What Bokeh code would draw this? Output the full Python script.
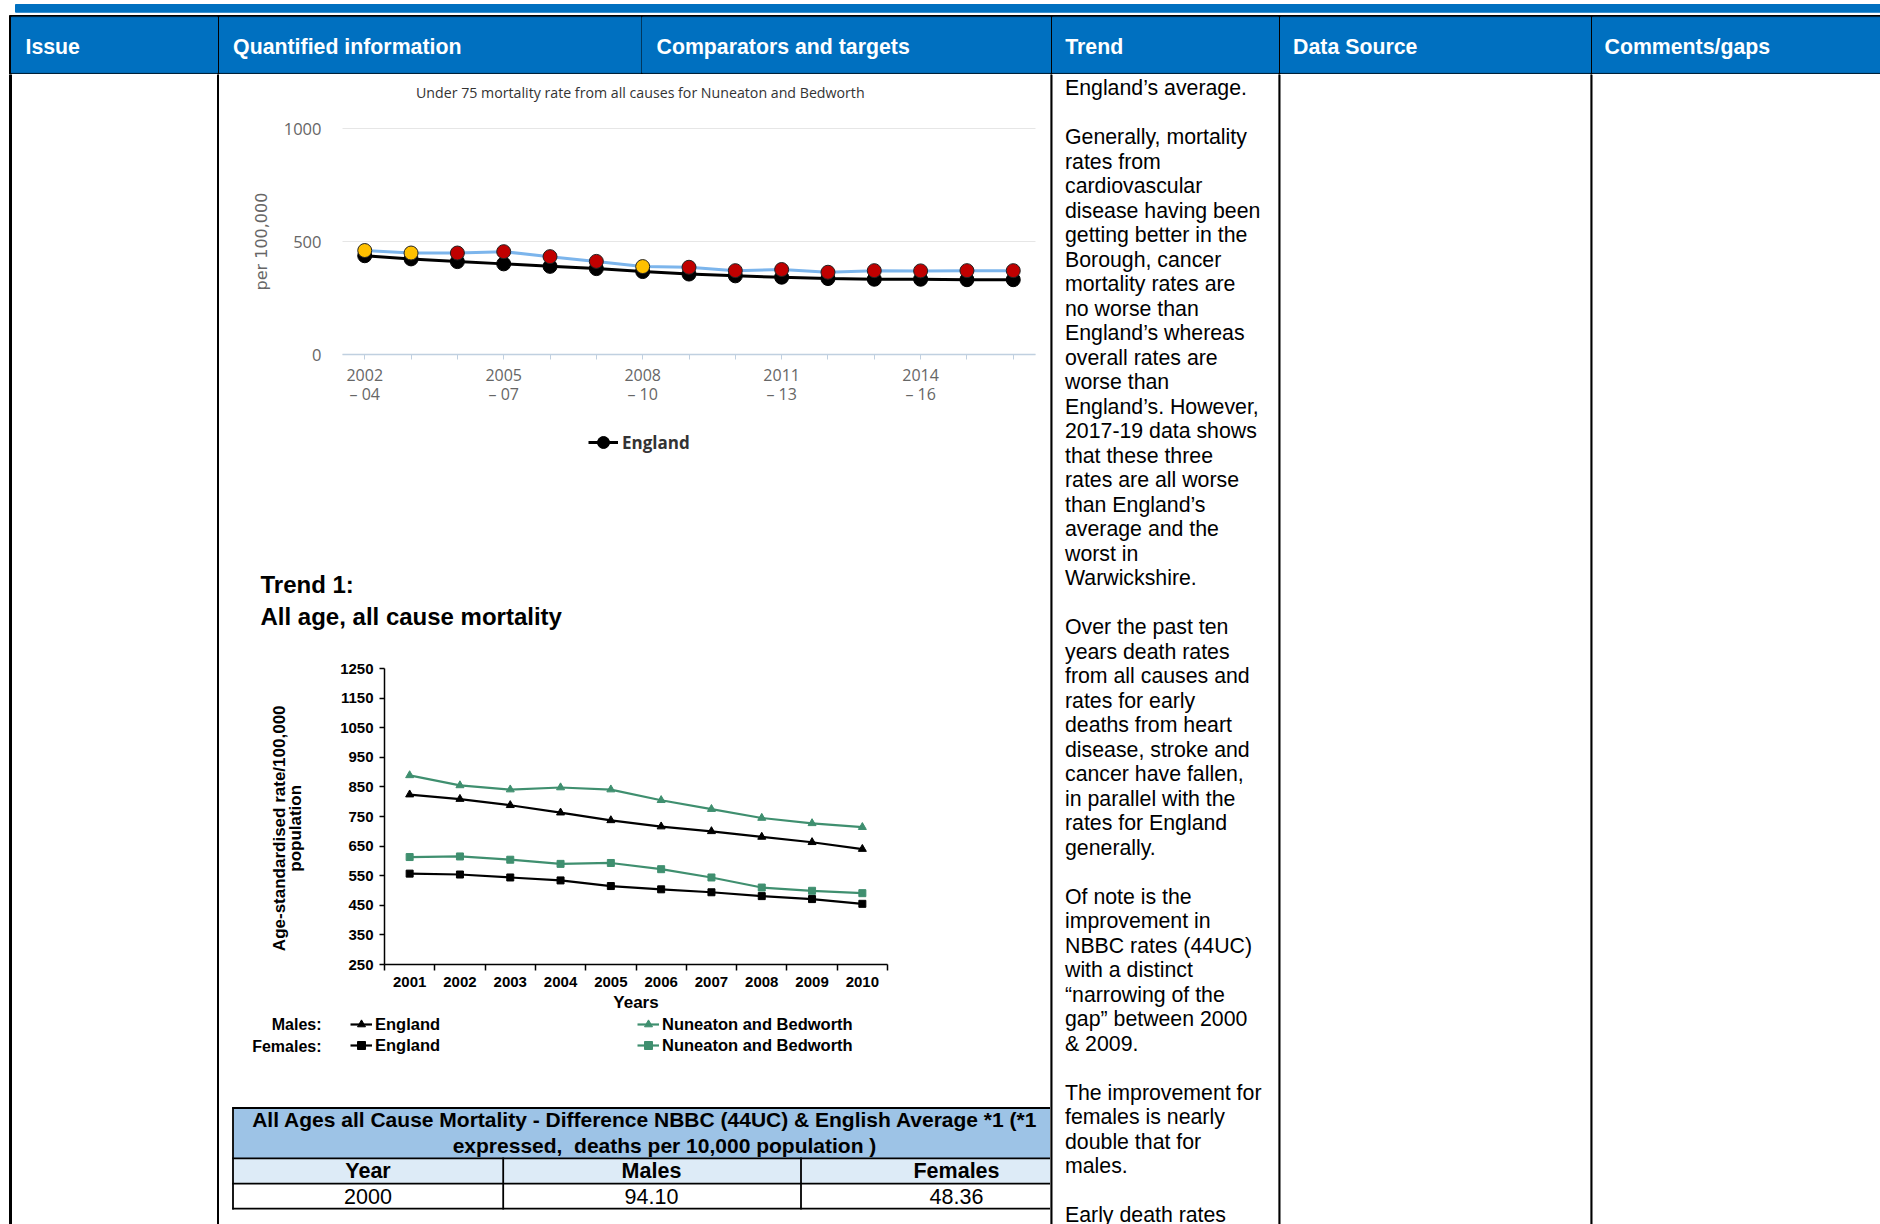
from bokeh.plotting import figure
from bokeh.models import (Range1d, FixedTicker, Legend, LegendItem, Label, ColumnDataSource,
                          LinearAxis)
from bokeh.layouts import column, row
from bokeh.embed import file_html
from bokeh.resources import INLINE
from bokeh.core.properties import value
from bokeh.transform import factor_cmap

# ---------------------------------------------------------------- data
header_labels = ["Issue", "Quantified information", "Comparators and targets",
                 "Trend", "Data Source", "Comments/gaps"]

u75_title = "Under 75 mortality rate from all causes for Nuneaton and Bedworth"
u75_periods = ["2002 – 04", "2003 – 05", "2004 – 06", "2005 – 07", "2006 – 08",
               "2007 – 09", "2008 – 10", "2009 – 11", "2010 – 12", "2011 – 13",
               "2012 – 14", "2013 – 15", "2014 – 16", "2015 – 17", "2016 – 18"]
u75_labelled = ["2002 – 04", "2005 – 07", "2008 – 10", "2011 – 13", "2014 – 16"]
u75_england = [437, 423, 411, 401, 390, 380, 367, 356, 348, 342, 336, 333, 333, 331, 331]
u75_nb = [460, 449, 449, 455, 433, 412, 389, 386, 371, 376, 364, 371, 370, 371, 371]
u75_nb_status = ["Similar", "Similar", "Worse", "Worse", "Worse", "Worse", "Similar",
                 "Worse", "Worse", "Worse", "Worse", "Worse", "Worse", "Worse", "Worse"]
u75_status_levels = ["Similar", "Worse"]
u75_status_colors = ["#FFC000", "#C00000"]
u75_yticks = [0, 500, 1000]
u75_ylabel = "per 100,000"
u75_legend = "England"

trend_heading = ["Trend 1:", "All age, all cause mortality"]
trend_years = [2001, 2002, 2003, 2004, 2005, 2006, 2007, 2008, 2009, 2010]
males_england = [824, 809, 788, 763, 737, 716, 700, 681, 663, 640]
males_nb = [889, 855, 841, 848, 841, 805, 775, 745, 727, 714]
females_england = [557, 554, 544, 534, 515, 504, 494, 481, 471, 455]
females_nb = [613, 615, 604, 590, 593, 572, 544, 510, 499, 491]
trend_yticks = [250, 350, 450, 550, 650, 750, 850, 950, 1050, 1150, 1250]
trend_ylabel = "Age-standardised rate/100,000\npopulation"
trend_xlabel = "Years"
series_names = ["England", "Nuneaton and Bedworth"]
sex_labels = ["Males:", "Females:"]

table_title = ["All Ages all Cause Mortality - Difference NBBC (44UC) & English Average *1 (*1",
               "expressed,  deaths per 10,000 population )"]
table_columns = ["Year", "Males", "Females"]
table_years = ["2000"]
table_males = [94.10]
table_females = [48.36]

trend_text = [
    "England’s average.", "",
    "Generally, mortality", "rates from", "cardiovascular", "disease having been",
    "getting better in the", "Borough, cancer", "mortality rates are", "no worse than",
    "England’s whereas", "overall rates are", "worse than", "England’s. However,",
    "2017-19 data shows", "that these three", "rates are all worse", "than England’s",
    "average and the", "worst in", "Warwickshire.", "",
    "Over the past ten", "years death rates", "from all causes and", "rates for early",
    "deaths from heart", "disease, stroke and", "cancer have fallen,", "in parallel with the",
    "rates for England", "generally.", "",
    "Of note is the", "improvement in", "NBBC rates (44UC)", "with a distinct",
    "“narrowing of the", "gap” between 2000", "& 2009.", "",
    "The improvement for", "females is nearly", "double that for", "males.", "",
    "Early death rates",
]

# ---------------------------------------------------------------- styles / geometry
BLUE = "#0070C0"
ARIAL = "Liberation Sans"
HC = "Open Sans"
GREEN = "#3F8F6F"

X_L, X_R = 0, 1880
Y_T, Y_HDR, Y_B = 0, 74, 1224
COLS = [0, 219, 1050, 1278, 1590, 1880]
MID_T1, MID_T2, MID_T3 = 540, 1090, Y_B


def page_fig(x0, x1, y0, y1, xr=None, yr=None):
    p = figure(width=int(x1 - x0), height=int(y1 - y0),
               x_range=xr or Range1d(x0, x1), y_range=yr or Range1d(y1, y0),
               x_axis_type=None, y_axis_type=None, toolbar_location=None,
               output_backend="svg", min_border=0, outline_line_color=None,
               background_fill_color="white", border_fill_color="white")
    return p


# ---------------------------------------------------------------- header strip
hdr = page_fig(X_L, X_R, Y_T, Y_HDR)
hdr.quad(left=[15], right=[X_R], top=[4], bottom=[11.7], color=BLUE)
hdr.quad(left=[9], right=[X_R], top=[15], bottom=[74.5], color="black")
cell_l = [11, 219, 642, 1052, 1280, 1592]
cell_r = [217, 640.5, 1050, 1278, 1590, X_R]
hdr.quad(left=cell_l, right=cell_r, top=[16.7] * 6, bottom=[72.3] * 6, color=BLUE)
hdr.text(x=[25, 232.6, 656, 1064.7, 1292.6, 1604], y=[46] * 6, text=header_labels,
         text_color="white", text_font=value(ARIAL), text_font_style="bold",
         text_font_size="21.3px", text_baseline="middle")

# ---------------------------------------------------------------- body columns
issue = page_fig(COLS[0], COLS[1], Y_HDR, Y_B)
issue.quad(left=[9, 217], right=[11, 219], top=[Y_HDR] * 2, bottom=[Y_B] * 2, color="black")

trend = page_fig(COLS[2], COLS[3], Y_HDR, Y_B)
trend.quad(left=[1049.5], right=[1051.5], top=[Y_HDR], bottom=[Y_B], color="black")
line_y = [87.5 + 24.51 * i for i in range(len(trend_text))]
trend.text(x=[1064.5] * len(trend_text), y=line_y, text=trend_text, text_color="black",
           text_font=value(ARIAL), text_font_size="21.3px", text_baseline="middle")

dsrc = page_fig(COLS[3], COLS[4], Y_HDR, Y_B)
dsrc.quad(left=[1277.5], right=[1279.5], top=[Y_HDR], bottom=[Y_B], color="black")

comm = page_fig(COLS[4], COLS[5], Y_HDR, Y_B)
comm.quad(left=[1589.5], right=[1591.5], top=[Y_HDR], bottom=[Y_B], color="black")

# ---------------------------------------------------------------- chart 1 (frame = whole canvas)
u75_start = [int(p[:4]) for p in u75_periods]
C1_X0, C1_X1 = u75_start[0] - 0.48, u75_start[-1] + 0.48
C1_Y0, C1_Y1 = u75_yticks[0], u75_yticks[-1]
C1_L, C1_R, C1_T, C1_B = 342, 1035, 128, 354


def c1_x(sx):
    return C1_X0 + (sx - C1_L) / (C1_R - C1_L) * (C1_X1 - C1_X0)


def c1_y(sy):
    return C1_Y0 + (C1_B - sy) / (C1_B - C1_T) * (C1_Y1 - C1_Y0)


c1 = page_fig(COLS[1], COLS[2], Y_HDR, MID_T1,
              xr=Range1d(c1_x(COLS[1]), c1_x(COLS[2])), yr=Range1d(c1_y(MID_T1), c1_y(Y_HDR)))

src1 = ColumnDataSource(dict(x=u75_start, eng=u75_england, nb=u75_nb, status=u75_nb_status))
c1.segment(x0=C1_X0, x1=C1_X1, y0=u75_yticks, y1=u75_yticks, line_color="#E6E6E6", line_width=1)
eng_l = c1.line("x", "eng", source=src1, line_color="black", line_width=3)
eng_s = c1.scatter("x", "eng", source=src1, size=14, fill_color="black", line_color="black")
nb_l = c1.line("x", "nb", source=src1, line_color="#7CB5EC", line_width=3)
nb_s = c1.scatter("x", "nb", source=src1, size=14, line_color="#222222", line_width=1,
                  fill_color=factor_cmap("status", u75_status_colors, u75_status_levels))

c1_yax = LinearAxis(fixed_location=C1_X0, bounds=(C1_Y0, C1_Y1), ticker=FixedTicker(ticks=u75_yticks))
c1_yax.axis_line_color = None
c1_yax.major_tick_line_color = None
c1_yax.major_tick_out = 0
c1_yax.major_tick_in = 0
c1_yax.minor_tick_line_color = None
c1_yax.minor_tick_out = 0
c1_yax.major_label_text_font = HC
c1_yax.major_label_text_font_size = "16.5px"
c1_yax.major_label_text_color = "#666666"
c1_yax.major_label_standoff = 21
c1_yax.axis_label = u75_ylabel
c1_yax.axis_label_text_font = "DejaVu Sans"
c1_yax.axis_label_text_font_style = "normal"
c1_yax.axis_label_text_font_size = "16px"
c1_yax.axis_label_text_color = "#666666"
c1_yax.axis_label_standoff = 10
c1.add_layout(c1_yax, "left")

c1_xax = LinearAxis(fixed_location=C1_Y0, bounds=(C1_X0, C1_X1), ticker=FixedTicker(ticks=u75_start))
c1_xax.major_label_overrides = {s: (p.replace(" – ", "\n– ") if p in u75_labelled else "")
                                for s, p in zip(u75_start, u75_periods)}
c1_xax.axis_line_color = "#C0D0E0"
c1_xax.axis_line_width = 1.5
c1_xax.major_tick_line_color = "#C0D0E0"
c1_xax.major_tick_out = 5
c1_xax.major_tick_in = 0
c1_xax.minor_tick_line_color = None
c1_xax.major_label_text_font = HC
c1_xax.major_label_text_font_size = "16px"
c1_xax.major_label_text_color = "#666666"
c1_xax.major_label_text_line_height = 0.9
c1_xax.major_label_standoff = 4
c1.add_layout(c1_xax, "below")

c1.add_layout(Label(x=c1_x(639.8), y=c1_y(92), text=u75_title, text_align="center",
                    text_baseline="middle", text_font=HC, text_font_size="14.2px",
                    text_color="#333333"))

leg1 = Legend(items=[LegendItem(label=u75_legend, renderers=[eng_l, eng_s])],
              location=(588 - COLS[1], MID_T1 - 457), glyph_width=30, glyph_height=30,
              label_height=30, label_standoff=4, padding=0, margin=0, border_line_color=None,
              background_fill_alpha=0, label_text_font=HC, label_text_font_style="bold",
              label_text_font_size="17px", label_text_color="#333333")
c1.add_layout(leg1)

# ---------------------------------------------------------------- chart 2 (frame = whole canvas)
C2_X0, C2_X1 = trend_years[0] - 0.5, trend_years[-1] + 0.5
C2_Y0, C2_Y1 = trend_yticks[0], trend_yticks[-1]
C2_L, C2_R, C2_T, C2_B = 384, 887, 668, 964


def c2_x(sx):
    return C2_X0 + (sx - C2_L) / (C2_R - C2_L) * (C2_X1 - C2_X0)


def c2_y(sy):
    return C2_Y0 + (C2_B - sy) / (C2_B - C2_T) * (C2_Y1 - C2_Y0)


c2 = page_fig(COLS[1], COLS[2], MID_T1, MID_T2,
              xr=Range1d(c2_x(COLS[1]), c2_x(COLS[2])), yr=Range1d(c2_y(MID_T2), c2_y(MID_T1)))

src2 = ColumnDataSource(dict(x=trend_years, me=males_england, mn=males_nb,
                             fe=females_england, fn=females_nb))
lw = 2.2
me_l = c2.line("x", "me", source=src2, line_color="black", line_width=lw)
me_s = c2.scatter("x", "me", source=src2, marker="triangle", size=8, color="black")
mn_l = c2.line("x", "mn", source=src2, line_color=GREEN, line_width=lw)
mn_s = c2.scatter("x", "mn", source=src2, marker="triangle", size=8, color=GREEN)
fe_l = c2.line("x", "fe", source=src2, line_color="black", line_width=lw)
fe_s = c2.scatter("x", "fe", source=src2, marker="square", size=7, color="black")
fn_l = c2.line("x", "fn", source=src2, line_color=GREEN, line_width=lw)
fn_s = c2.scatter("x", "fn", source=src2, marker="square", size=7, color=GREEN)

boundaries = [y - 0.5 for y in trend_years] + [trend_years[-1] + 0.5]
c2_xax = LinearAxis(fixed_location=C2_Y0, bounds=(C2_X0, C2_X1),
                    ticker=FixedTicker(ticks=trend_years, minor_ticks=boundaries))
c2_yax = LinearAxis(fixed_location=C2_X0, bounds=(C2_Y0, C2_Y1),
                    ticker=FixedTicker(ticks=trend_yticks))
for ax in (c2_xax, c2_yax):
    ax.axis_line_color = "black"
    ax.axis_line_width = 1.5
    ax.major_label_text_font = ARIAL
    ax.major_label_text_font_style = "bold"
    ax.major_label_text_font_size = "15px"
    ax.major_label_text_color = "black"
    ax.axis_label_text_font = ARIAL
    ax.axis_label_text_font_style = "bold"
    ax.axis_label_text_font_size = "17px"
    ax.axis_label_text_color = "black"

c2_yax.major_tick_line_color = "black"
c2_yax.major_tick_line_width = 1.5
c2_yax.major_tick_out = 5
c2_yax.major_tick_in = 0
c2_yax.minor_tick_line_color = None
c2_yax.major_label_standoff = 6
# pad each line so the rotated label sits a little lower, as in the reference
c2_yax.axis_label = "\n".join(part + "\u00a0" * 5 for part in trend_ylabel.split("\n"))
c2_yax.axis_label_text_line_height = 0.85
c2_yax.axis_label_standoff = 32
c2.add_layout(c2_yax, "left")

c2_xax.major_tick_line_color = None
c2_xax.major_tick_out = 0
c2_xax.major_tick_in = 0
c2_xax.minor_tick_line_color = "black"
c2_xax.minor_tick_line_width = 1.5
c2_xax.minor_tick_out = 6
c2_xax.minor_tick_in = 0
c2_xax.major_label_standoff = 6
c2_xax.axis_label = trend_xlabel
c2_xax.axis_label_standoff = 3
c2.add_layout(c2_xax, "below")

for text, sy in zip(trend_heading, [584, 616]):
    c2.add_layout(Label(x=c2_x(260), y=c2_y(sy), text=text, text_align="left",
                        text_baseline="middle", text_font=ARIAL, text_font_style="bold",
                        text_font_size="24px", text_color="black"))
for text, sy in zip(sex_labels, [1024, 1046]):
    c2.add_layout(Label(x=c2_x(321), y=c2_y(sy), text=text, text_align="right",
                        text_baseline="middle", text_font=ARIAL, text_font_style="bold",
                        text_font_size="16px", text_color="black"))

leg_kw = dict(glyph_width=22, glyph_height=20, label_height=20, label_standoff=3, spacing=1,
              padding=0, margin=0, border_line_color=None, background_fill_alpha=0,
              label_text_font=ARIAL, label_text_font_style="bold", label_text_font_size="16.5px",
              label_text_color="black")
leg_e = Legend(items=[LegendItem(label=series_names[0], renderers=[me_l, me_s]),
                      LegendItem(label=series_names[0], renderers=[fe_l, fe_s])],
               location=(350 - COLS[1], MID_T2 - 1055), **leg_kw)
leg_n = Legend(items=[LegendItem(label=series_names[1], renderers=[mn_l, mn_s]),
                      LegendItem(label=series_names[1], renderers=[fn_l, fn_s])],
               location=(637 - COLS[1], MID_T2 - 1055), **leg_kw)
c2.add_layout(leg_e)
c2.add_layout(leg_n)

# ---------------------------------------------------------------- table
tbl = page_fig(COLS[1], COLS[2], MID_T2, MID_T3)
tbl.quad(left=[233.3], right=[1050], top=[1108.3], bottom=[1157], color="#9DC3E6")
tbl.quad(left=[233.3], right=[1050], top=[1158.5], bottom=[1182.3], color="#DDEBF7")
h_lines = [1107.5, 1157.8, 1183.1, 1208.2]
tbl.segment(x0=[231.7] * 4, x1=[1050] * 4, y0=h_lines, y1=h_lines, line_color="black",
            line_width=1.8)
tbl.segment(x0=[232.5, 502.7, 800.5], x1=[232.5, 502.7, 800.5],
            y0=[1106.7, 1157, 1157], y1=[1209, 1209, 1209], line_color="black", line_width=1.8)
tbl.text(x=[251.7], y=[1118.5], text=[table_title[0]], text_align="left", text_baseline="middle",
         text_font=value(ARIAL), text_font_style="bold", text_font_size="21px", text_color="black")
tbl.text(x=[664], y=[1145], text=[table_title[1].replace("  ", " \u00a0")], text_align="center",
         text_baseline="middle", text_font=value(ARIAL), text_font_style="bold",
         text_font_size="21px", text_color="black")
col_cx = [367.5, 651, 956]
tbl.text(x=col_cx, y=[1170.5] * 3, text=table_columns, text_align="center", text_baseline="middle",
         text_font=value(ARIAL), text_font_style="bold", text_font_size="21.5px", text_color="black")
row_vals = [table_years[0], f"{table_males[0]:.2f}", f"{table_females[0]:.2f}"]
tbl.text(x=col_cx, y=[1196] * 3, text=row_vals, text_align="center", text_baseline="middle",
         text_font=value(ARIAL), text_font_size="21.5px", text_color="black")

# ---------------------------------------------------------------- assemble
middle = column(c1, c2, tbl, spacing=0)
body = row(issue, middle, trend, dsrc, comm, spacing=0)
page = column(hdr, body, spacing=0)

open("out.html", "w").write(file_html(page, INLINE))
